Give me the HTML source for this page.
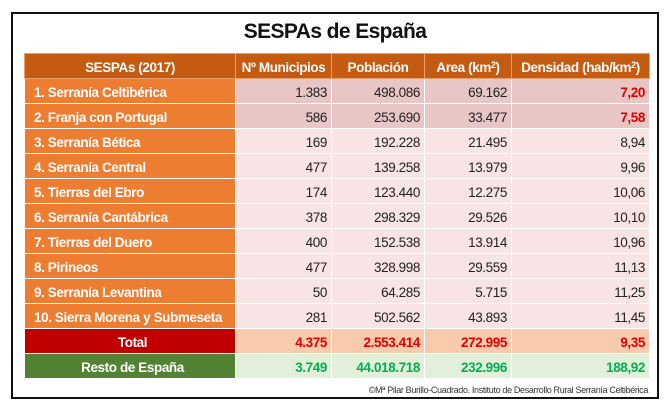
<!DOCTYPE html>
<html><head><meta charset="utf-8"><style>
body{margin:0;width:670px;height:410px;background:#fff;font-family:"Liberation Sans",sans-serif;position:relative;overflow:hidden}
.box{position:absolute;left:11px;top:12px;width:648px;height:387px;border:2px solid #111;box-sizing:border-box}
.title{position:absolute;left:0;width:670px;top:20px;text-align:center;font-weight:bold;font-size:21px;letter-spacing:-0.6px;color:#111}
table{position:absolute;left:24px;top:53px;border-collapse:collapse;table-layout:fixed}
td{height:25px;padding:0 4px;font-size:13.5px;letter-spacing:-0.4px;box-sizing:border-box;border:1px solid #fff;text-align:right;color:#222;white-space:nowrap;overflow:hidden;padding-top:2px}
tr.h td{height:25px;background:#c55a11;color:#fff;font-weight:bold;text-align:center;border-color:#e8a070}
td.n{background:#ed7d31;color:#fff;font-weight:bold;text-align:left;padding-left:9px}
tr.a td{background:#e9c6c6}
tr.b td{background:#f8e4e4}
tr.a td.n,tr.b td.n{background:#ed7d31}
td.r{color:#e00000;font-weight:bold}
tr.t td{background:#f8cbad;color:#e00000;font-weight:bold}
tr.t td.n{background:#c00000;color:#fff;text-align:center}
tr.g td{background:#e2f0d9;color:#00b050;font-weight:bold}
tr.g td.n{background:#548235;color:#fff;text-align:center}
sup{font-size:9px;vertical-align:4px;line-height:0}
.copy{position:absolute;right:22px;top:385px;font-size:9px;letter-spacing:-0.35px;color:#333}
</style></head><body>
<div class="box"></div>
<div class="title">SESPAs de España</div>
<table>
<colgroup><col style="width:211px"><col style="width:96px"><col style="width:93px"><col style="width:87px"><col style="width:138px"></colgroup>
<tr class="h"><td>SESPAs (2017)</td><td>Nº Municipios</td><td>Población</td><td>Area (km<sup>2</sup>)</td><td>Densidad (hab/km<sup>2</sup>)</td></tr>
<tr class="a"><td class="n">1. Serranía Celtibérica</td><td>1.383</td><td>498.086</td><td>69.162</td><td class="r">7,20</td></tr>
<tr class="a"><td class="n">2. Franja con Portugal</td><td>586</td><td>253.690</td><td>33.477</td><td class="r">7,58</td></tr>
<tr class="b"><td class="n">3. Serranía Bética</td><td>169</td><td>192.228</td><td>21.495</td><td>8,94</td></tr>
<tr class="b"><td class="n">4. Serranía Central</td><td>477</td><td>139.258</td><td>13.979</td><td>9,96</td></tr>
<tr class="b"><td class="n">5. Tierras del Ebro</td><td>174</td><td>123.440</td><td>12.275</td><td>10,06</td></tr>
<tr class="b"><td class="n">6. Serranía Cantábrica</td><td>378</td><td>298.329</td><td>29.526</td><td>10,10</td></tr>
<tr class="b"><td class="n">7. Tierras del Duero</td><td>400</td><td>152.538</td><td>13.914</td><td>10,96</td></tr>
<tr class="b"><td class="n">8. Pirineos</td><td>477</td><td>328.998</td><td>29.559</td><td>11,13</td></tr>
<tr class="b"><td class="n">9. Serranía Levantina</td><td>50</td><td>64.285</td><td>5.715</td><td>11,25</td></tr>
<tr class="b"><td class="n">10. Sierra Morena y Submeseta</td><td>281</td><td>502.562</td><td>43.893</td><td>11,45</td></tr>
<tr class="t"><td class="n">Total</td><td>4.375</td><td>2.553.414</td><td>272.995</td><td>9,35</td></tr>
<tr class="g"><td class="n">Resto de España</td><td>3.749</td><td>44.018.718</td><td>232.996</td><td>188,92</td></tr>
</table>
<div class="copy">©Mª Pilar Burillo-Cuadrado. Instituto de Desarrollo Rural Serranía Celtibérica</div>
</body></html>
